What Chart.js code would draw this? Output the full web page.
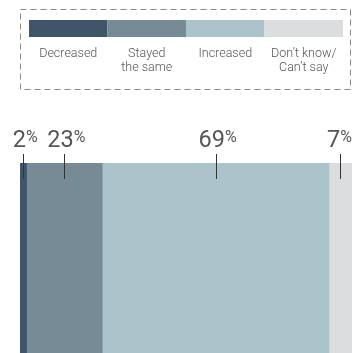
<!DOCTYPE html>
<html>
<head>
<meta charset="utf-8">
<script src="https://cdn.jsdelivr.net/npm/chart.js@4"></script>
<style>
  html, body { margin: 0; padding: 0; background: #fff; }
  #wrap { width: 352px; height: 353px; position: relative; }
</style>
</head>
<body>
<div id="wrap"><canvas id="myChart"></canvas></div>
<script>
const categories = ['Decreased', 'Stayed\nthe same', 'Increased', 'Don\u2019t know/\nCan\u2019t say'];
const values = [2, 23, 69, 7];
const colors = ['#3f5569', '#778b97', '#abc3ca', '#dcdddf'];

const total = values.reduce((a, b) => a + b, 0);

// dashed legend box with swatches on top
const legendBox = {
  id: 'legendBox',
  afterDraw(chart) {
    const ctx = chart.ctx;
    ctx.save();
    ctx.strokeStyle = '#8a8a8a';
    ctx.lineWidth = 1;
    ctx.setLineDash([6, 4]);
    ctx.strokeRect(20.5, 9.5, 330, 80);
    ctx.setLineDash([]);
    const x0 = 29, w = 314 / categories.length;
    categories.forEach((c, i) => {
      ctx.fillStyle = colors[i];
      ctx.fillRect(x0 + i * w, 20, w, 17);
      ctx.fillStyle = '#555';
      ctx.font = '300 12.5px Roboto';
      ctx.textAlign = 'center';
      ctx.textBaseline = 'alphabetic';
      c.split('\n').forEach((line, j) => {
        ctx.fillText(line, x0 + i * w + w / 2, 57 + j * 13.5);
      });
    });
    ctx.restore();
  }
};

// percentage callouts above each segment
const callouts = {
  id: 'callouts',
  afterDraw(chart) {
    const ctx = chart.ctx;
    const xs = chart.scales.x;
    ctx.save();
    let start = 0;
    values.forEach((v, i) => {
      const cx = xs.getPixelForValue(start + v / 2);
      start += v;
      ctx.strokeStyle = '#333';
      ctx.lineWidth = 1;
      ctx.beginPath();
      ctx.moveTo(Math.round(cx) + 0.5, 154);
      ctx.lineTo(Math.round(cx) + 0.5, 179);
      ctx.stroke();

      ctx.font = '400 23.5px Roboto';
      const nw = ctx.measureText(String(v)).width;
      ctx.font = '400 16px Roboto';
      const pw = ctx.measureText('%').width;
      let left = cx + 2 - (nw + pw) / 2;
      if (left + nw + pw > 352) left = 352 - nw - pw;
      ctx.fillStyle = '#555';
      ctx.textAlign = 'left';
      ctx.textBaseline = 'alphabetic';
      ctx.font = '400 23.5px Roboto';
      ctx.fillText(String(v), left, 147);
      ctx.font = '400 16px Roboto';
      ctx.fillText('%', left + nw, 142);
    });
    ctx.restore();
  }
};

new Chart(document.getElementById('myChart'), {
  type: 'bar',
  data: {
    labels: [''],
    datasets: values.map((v, i) => ({
      label: categories[i],
      data: [v],
      backgroundColor: colors[i],
      borderWidth: 0,
      barPercentage: 1,
      categoryPercentage: 1
    }))
  },
  options: {
    indexAxis: 'y',
    responsive: true,
    maintainAspectRatio: false,
    animation: false,
    layout: { padding: { left: 20, top: 163, right: 0, bottom: 0 } },
    scales: {
      x: { stacked: true, min: 0, max: total, display: false },
      y: { stacked: true, display: false }
    },
    plugins: {
      legend: { display: false },
      tooltip: { enabled: false }
    }
  },
  plugins: [legendBox, callouts]
});
</script>
</body>
</html>
